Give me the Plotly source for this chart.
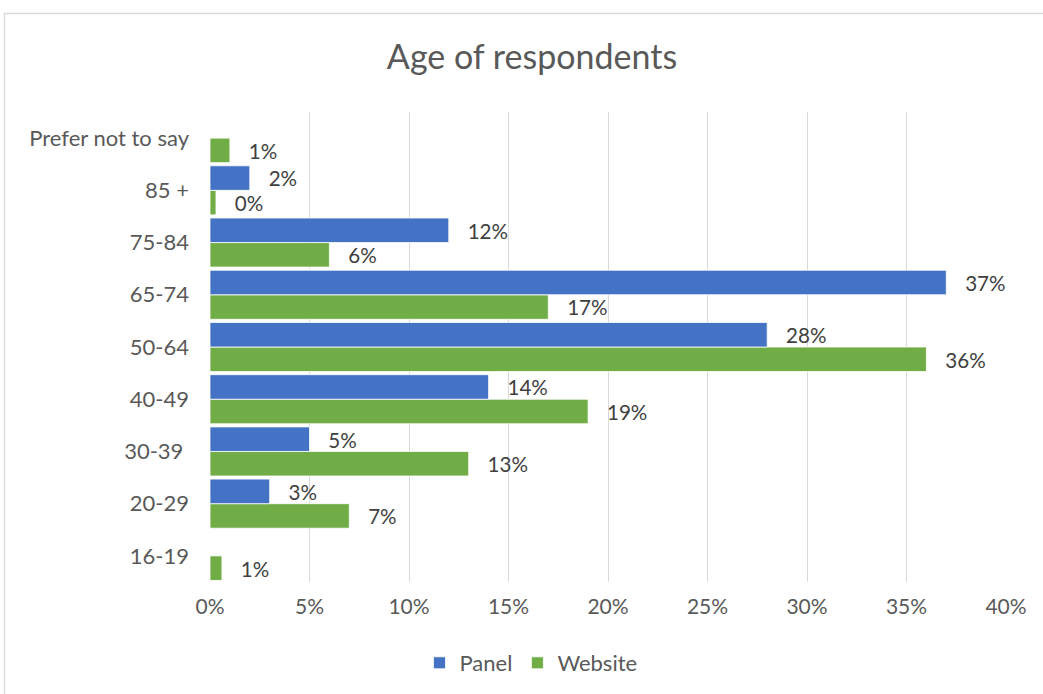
import plotly.graph_objects as go

categories = ["16-19", "20-29", "30-39\u00a0", "40-49", "50-64", "65-74", "75-84", "85 +", "Prefer not to say"]
panel_values = [None, 3, 5, 14, 28, 37, 12, 2, None]
panel_labels = ["", "3%", "5%", "14%", "28%", "37%", "12%", "2%", ""]
website_values = [0.6, 7, 13, 19, 36, 17, 6, 0.3, 1]
website_labels = ["1%", "7%", "13%", "19%", "36%", "17%", "6%", "0%", "1%"]
x_ticks = [0, 5, 10, 15, 20, 25, 30, 35, 40]
x_tick_labels = ["0%", "5%", "10%", "15%", "20%", "25%", "30%", "35%", "40%"]

FONT = "Lato, Open Sans, sans-serif"
W, H = 1043, 694
L, R, T, B = 210, 37, 112, 112
pw = W - L - R
ph = H - T - B
PAD = "\u00a0\u00a0\u00a0"

fig = go.Figure()
fig.add_trace(go.Bar(
    y=categories, x=website_values, name="Website", orientation="h",
    marker=dict(color="#70AD47", line=dict(color="white", width=0.8)),
    text=website_labels, texttemplate=PAD + "%{text}", textposition="outside", cliponaxis=False,
    textfont=dict(family=FONT, size=21, color="#404040"),
))
fig.add_trace(go.Bar(
    y=categories, x=panel_values, name="Panel", orientation="h",
    marker=dict(color="#4472C4", line=dict(color="white", width=0.8)),
    text=panel_labels, texttemplate=PAD + "%{text}", textposition="outside", cliponaxis=False,
    textfont=dict(family=FONT, size=21, color="#404040"),
))

fig.update_layout(
    width=W, height=H,
    margin=dict(l=L, r=R, t=T, b=B),
    paper_bgcolor="white", plot_bgcolor="white",
    barmode="group", bargap=0.06, bargroupgap=0.0,
    font=dict(family=FONT, color="#595959"),
    title=dict(text="Age of respondents", x=532 / W, xref="container", xanchor="center",
               y=1 - 57 / H, yref="container", yanchor="middle",
               font=dict(family=FONT, size=34, color="#595959")),
    legend=dict(orientation="h", x=531 / W, xref="container", xanchor="center",
                y=1 - 663 / H, yref="container", yanchor="middle",
                traceorder="reversed", font=dict(family=FONT, size=22, color="#595959"),
                itemwidth=30),
    uniformtext=dict(mode=False),
)
fig.update_xaxes(range=[0, 40], tickvals=x_ticks, ticktext=x_tick_labels,
                 showgrid=True, gridcolor="#D9D9D9", gridwidth=1.3, zeroline=False,
                 showline=False, tickfont=dict(family=FONT, size=21, color="#595959"),
                 ticklabelstandoff=10, fixedrange=True)
fig.update_yaxes(categoryorder="array", categoryarray=categories, showgrid=False,
                 showline=False, zeroline=False,
                 tickfont=dict(family=FONT, size=22, color="#595959"),
                 ticklabelstandoff=20, fixedrange=True)

# chart border
fig.add_shape(type="rect", xref="paper", yref="paper",
              x0=(4.5 - L) / pw, x1=(1060 - L) / pw,
              y0=-(720 - (H - B)) / ph, y1=1 + (T - 13.5) / ph,
              line=dict(color="#D9D9D9", width=1.3), fillcolor="rgba(0,0,0,0)", layer="below")

fig.write_html("out.html")
